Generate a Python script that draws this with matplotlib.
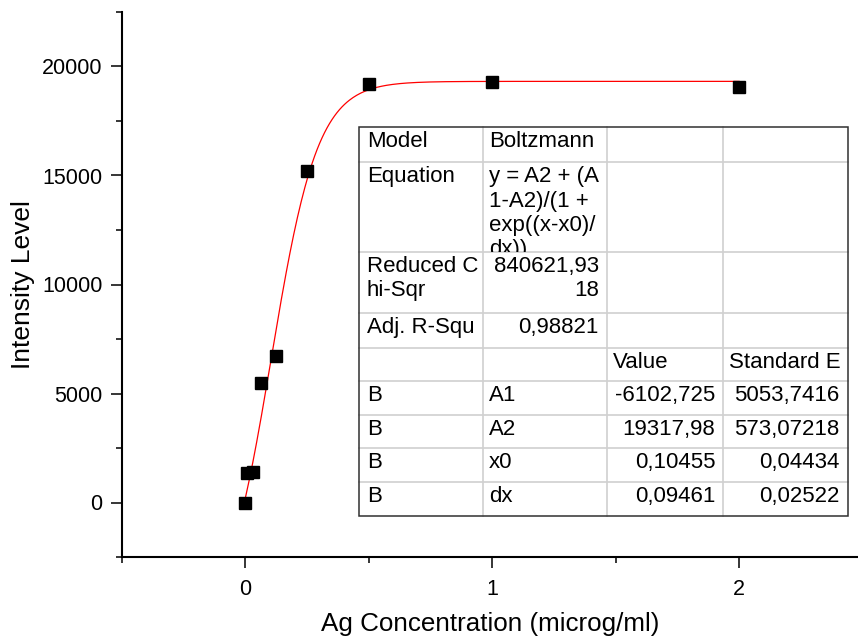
import matplotlib
matplotlib.use("Agg")
import matplotlib.pyplot as plt
import numpy as np
from matplotlib.lines import Line2D
from matplotlib.patches import Rectangle
from matplotlib.transforms import Bbox, TransformedBbox

plt.rcParams['font.family'] = ['Liberation Sans', 'DejaVu Sans']

# measured data
conc = [0, 0.0078, 0.03125, 0.0625, 0.125, 0.25, 0.5, 1, 2]
intensity = [0, 1370, 1400, 5480, 6700, 15200, 19180, 19270, 19040]

# Boltzmann fit results (from the report table)
param_names = ["A1", "A2", "x0", "dx"]
param_values = [-6102.725, 19317.98, 0.10455, 0.09461]
param_errors = [5053.7416, 573.07218, 0.04434, 0.02522]
model_name = "Boltzmann"
equation = "y = A2 + (A\n1-A2)/(1 +\nexp((x-x0)/\ndx))"
chi_sqr = "840621,93\n18"
adj_r2 = "0,98821"

W, H = 858, 640
fig = plt.figure(figsize=(W / 100, H / 100), dpi=100)

def fx(x):
    return x / W

def fy(y):
    return 1 - y / H

ax = fig.add_axes([fx(122), fy(557), (W - 122) / W, (557 - 12) / H])
ax.set_xlim(-0.5, (W - 245) / 247)
ax.set_ylim(-2500, 22500)

A1, A2, x0, dx = param_values
xs = np.linspace(0, 2, 400)
ax.plot(xs, A2 + (A1 - A2) / (1 + np.exp((xs - x0) / dx)), color='red', lw=0.9, zorder=2)
ax.plot(conc, intensity, ls='none', marker='s', ms=8.6, color='black', zorder=3)

for s in ['top', 'right']:
    ax.spines[s].set_visible(False)
for s in ['left', 'bottom']:
    ax.spines[s].set_linewidth(1.5)

ax.set_xticks([0, 1, 2])
ax.set_xticks([-0.5, 0.5, 1.5], minor=True)
ax.set_yticks([0, 5000, 10000, 15000, 20000])
ax.set_yticks([-2500, 2500, 7500, 12500, 17500, 22500], minor=True)
ax.tick_params(which='major', direction='out', length=8, width=1.1, labelsize=15.5, pad=6)
ax.tick_params(axis='x', which='major', pad=8)
ax.tick_params(which='minor', direction='out', length=4.5, width=1.1)

fig.text(fx(23), fy(285), "Intensity Level", rotation=90, ha='center', va='center', fontsize=19)
fig.text(fx(490), fy(624), "Ag Concentration (microg/ml)", ha='center', va='center', fontsize=18.7)

# fit report table
col_x = [359, 482.7, 606.7, 723.3, 847.7]
row_y = [127, 162.3, 251.7, 313.3, 347.7, 381, 415, 448.3, 481.7, 516]

fig.patches.append(Rectangle((fx(col_x[0]), fy(row_y[-1])), (col_x[-1] - col_x[0]) / W,
                             (row_y[-1] - row_y[0]) / H, transform=fig.transFigure,
                             facecolor='white', edgecolor='none', zorder=5))
for x in col_x[1:-1]:
    fig.lines.append(Line2D([fx(x), fx(x)], [fy(row_y[0]), fy(row_y[-1])], transform=fig.transFigure,
                            color='#d0d0d0', lw=1.2, zorder=6))
for y in row_y[1:-1]:
    fig.lines.append(Line2D([fx(col_x[0]), fx(col_x[-1])], [fy(y), fy(y)], transform=fig.transFigure,
                            color='#d0d0d0', lw=1.2, zorder=6))
fig.patches.append(Rectangle((fx(col_x[0]), fy(row_y[-1])), (col_x[-1] - col_x[0]) / W,
                             (row_y[-1] - row_y[0]) / H, transform=fig.transFigure,
                             facecolor='none', edgecolor='#303030', lw=1.1, zorder=7))

def fmt(v):
    return repr(v).replace('.', ',')

cells = [
    ["Model", model_name, "", ""],
    ["Equation", equation, "", ""],
    ["Reduced C\nhi-Sqr", chi_sqr, "", ""],
    ["Adj. R-Squ", adj_r2, "", ""],
    ["", "", "Value", "Standard E"],
]
for n, v, e in zip(param_names, param_values, param_errors):
    cells.append(["B", n, fmt(v), fmt(e)])

left_cells = {(0, 1), (1, 1), (4, 2), (4, 3)}
for r, row in enumerate(cells):
    for c, txt in enumerate(row):
        if not txt:
            continue
        right = c >= 2 or (c == 1 and r in (2, 3))
        if (r, c) in left_cells:
            right = False
        if right:
            x, ha = col_x[c + 1] - 8, 'right'
        else:
            x, ha = col_x[c] + (8 if c == 0 else 6), 'left'
        t = fig.text(fx(x), fy(row_y[r] + 4), txt, ha=ha, va='top', multialignment=ha,
                     fontsize=16, linespacing=1.2, zorder=8)
        clip = TransformedBbox(Bbox([[fx(col_x[c]), fy(row_y[r + 1])], [fx(col_x[c + 1]), fy(row_y[r])]]),
                               fig.transFigure)
        t.set_clip_box(clip)
        t.set_clip_on(True)

fig.savefig("out.png", dpi=100)
